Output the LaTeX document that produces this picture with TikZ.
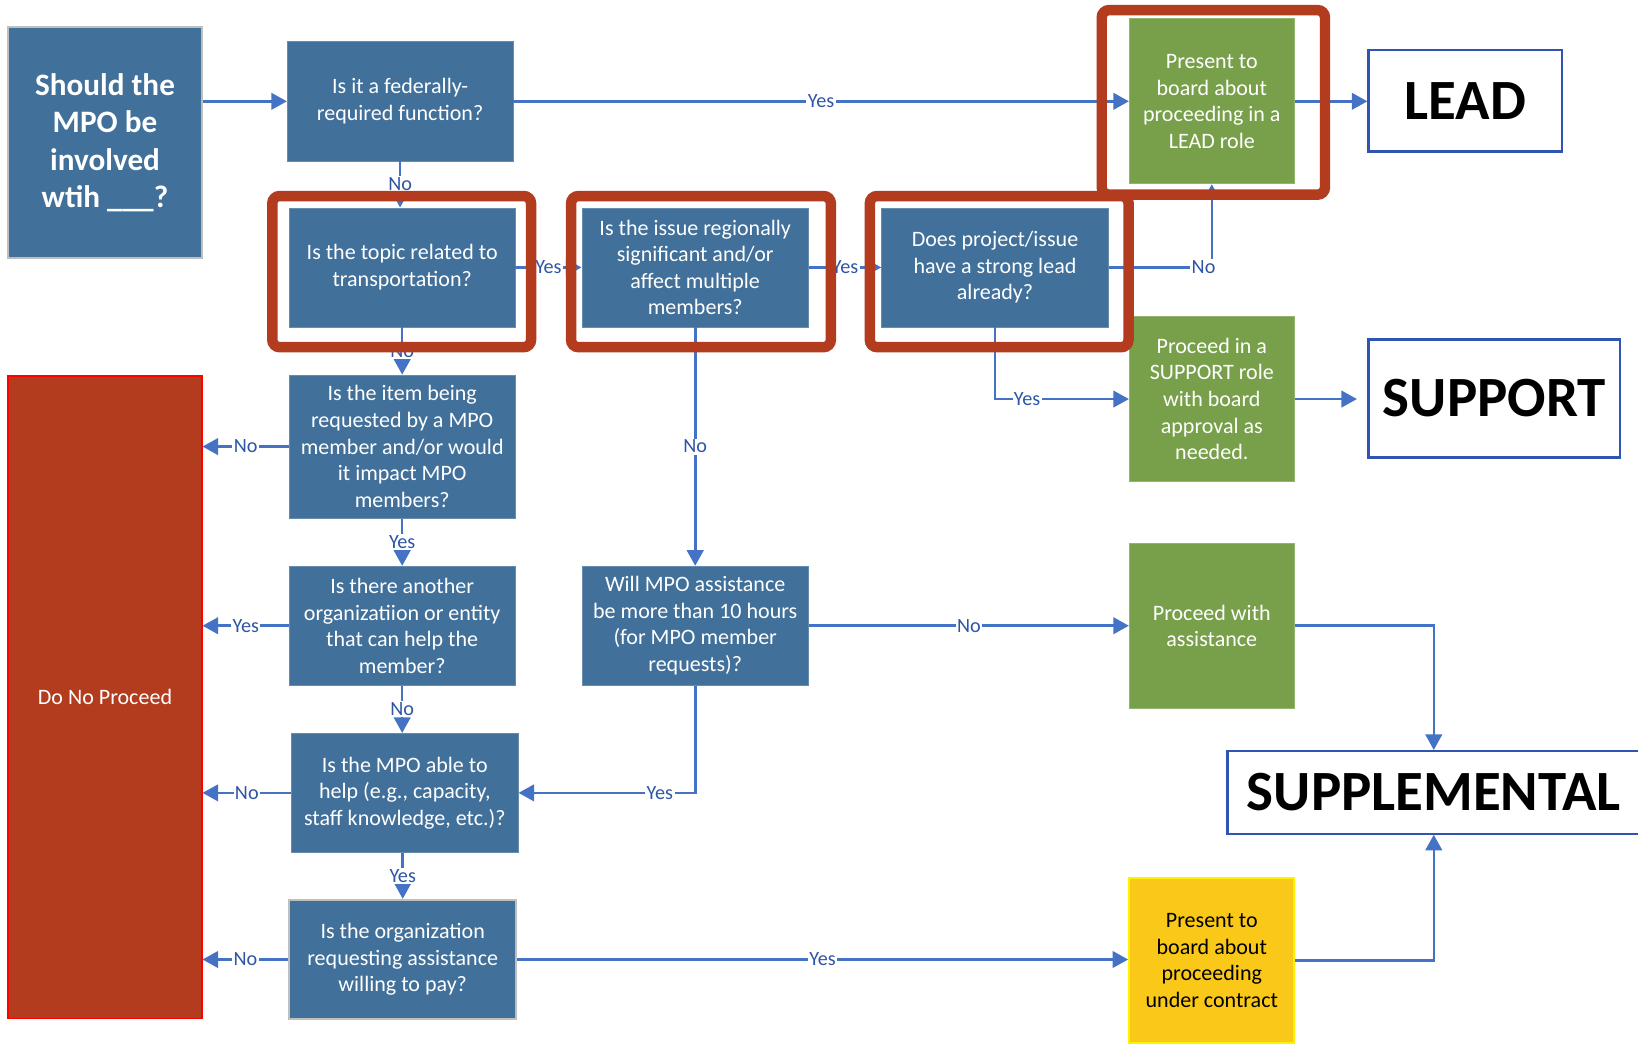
\documentclass[tikz,border=0pt]{standalone}
\usepackage{fontspec}
\setmainfont{Carlito}
\usepackage{tikz}
\usetikzlibrary{calc, positioning, shapes, arrows.meta}

\definecolor{qblue}{HTML}{41709A}
\definecolor{qgreen}{HTML}{78A04A}
\definecolor{brick}{HTML}{B33B1E}
\definecolor{qyellow}{HTML}{FAC818}
\definecolor{lineblue}{HTML}{4472C4}
\definecolor{textblue}{HTML}{2F55A5}
\definecolor{edgeblue}{HTML}{2F55B0}

\begin{document}
\begin{tikzpicture}[x=0.2mm, y=-0.2mm]

\tikzstyle{question} = [rectangle, fill=qblue, draw=qblue!80!white, text=white, align=center, minimum width=4.32cm, minimum height=2.28cm, inner sep=0pt, font=\fontsize{12}{14.5}\selectfont];
\tikzstyle{result} = [rectangle, fill=qgreen, draw=qgreen!80!white, text=white, align=center, minimum width=3.16cm, minimum height=3.16cm, inner sep=0pt, font=\fontsize{12}{14.5}\selectfont];
\tikzstyle{outcome} = [rectangle, fill=white, draw=edgeblue, line width=1.2pt, font=\fontsize{31}{36}\selectfont\bfseries, inner sep=0pt];
\tikzstyle{arrow} = [-{Triangle[length=8.5pt, width=9pt]}, draw=lineblue, line width=1.4pt];
\tikzstyle{answer} = [fill=white, text=textblue, inner sep=0.8pt, font=\fontsize{11}{13}\selectfont];
\tikzstyle{hilite} = [draw=brick, line width=5.7pt, rounded corners=4pt];

\useasboundingbox (0,0) rectangle (1568,999);

\node(start) [question, draw=gray!50, line width=1.2pt, minimum width=3.7cm, minimum height=4.42cm, font=\fontsize{17}{20.4}\selectfont\bfseries] at (100.5,136.5) {Should the\\MPO be\\involved\\wtih \_\_\_?};
\node(fed) [question] at (383,97) {Is it a federally-\\required function?};

\node(topic) [question] at (385,256) {Is the topic related to\\transportation?};
\node(regional) [question, minimum width=4.34cm] at (665.5,256) {Is the issue regionally\\significant and/or\\affect multiple\\members?};
\node(strong) [question, minimum width=4.34cm] at (952.5,256) {Does project/issue\\have a strong lead\\already?};

\node(presentlead) [result] at (1160,97) {Present to\\board about\\proceeding in a\\LEAD role};
\node(lead) [outcome, minimum width=3.7cm, minimum height=1.94cm] at (1402.5,96.5) {LEAD};

\node(proceedsup) [result] at (1160,382) {Proceed in a\\SUPPORT role\\with board\\approval as\\needed.};
\node(support) [outcome, minimum width=4.82cm, minimum height=2.26cm] at (1430.5,381.5) {SUPPORT};

\node(item) [question, minimum height=2.74cm] at (385,427.5) {Is the item being\\requested by a MPO\\member and/or would\\it impact MPO\\members?};
\node(another) [question] at (385,599) {Is there another\\organizatiion or entity\\that can help the\\member?};
\node(will) [question, minimum width=4.34cm] at (665.5,599) {Will MPO assistance\\be more than 10 hours\\(for MPO member\\requests)?};
\node(assist) [result] at (1160,599) {Proceed with\\assistance};

\node(supplemental) [outcome, minimum width=7.9cm, minimum height=1.58cm] at (1372.5,758.5) {SUPPLEMENTAL};

\node(able) [question, minimum width=4.34cm] at (387.5,759) {Is the MPO able to\\help (e.g., capacity,\\staff knowledge, etc.)?};
\node(pay) [question, draw=gray!50, line width=1.2pt, minimum width=4.34cm] at (385.5,918.5) {Is the organization\\requesting assistance\\willing to pay?};
\node(contract) [result, fill=qyellow, draw=yellow, line width=1.2pt, text=black] at (1160,919.5) {Present to\\board about\\proceeding\\under contract};

\node(dnp) [rectangle, fill=brick, draw=red, line width=1pt, text=white, minimum width=3.7cm, minimum height=12.3cm, font=\fontsize{12}{14.5}\selectfont] at (100.5,667.5) {Do No Proceed};

\draw [arrow] (fed.west -| start.east) -- (fed.west);
\draw [arrow] (fed.east) -- node[answer] {Yes} (presentlead.west);
\draw [arrow] (presentlead.east) -- (lead.west |- presentlead.east);
\draw [arrow] (fed.south) -- node[answer] {No} (fed.south |- topic.north);

\draw [arrow] (topic.east) -- node[answer] {Yes} (regional.west);
\draw [arrow] (regional.east) -- node[answer] {Yes} (strong.west);
\draw [arrow] (strong.east) -| node[answer, pos=0.46] {No} (presentlead.south);
\draw [arrow] (strong.south) |- node[answer, pos=0.62] {Yes} (proceedsup.west);
\draw [arrow, shorten >=0.2cm] (proceedsup.east) -- (support.west |- proceedsup.east);

\draw [arrow] (topic.south) -- node[answer] {No} (item.north);
\draw [arrow] (regional.south) -- node[answer] {No} (will.north);

\draw [arrow] (item.west) -- node[answer] {No} (item.west -| dnp.east);
\draw [arrow] (item.south) -- node[answer] {Yes} (another.north);
\draw [arrow] (another.west) -- node[answer] {Yes} (another.west -| dnp.east);
\draw [arrow] (another.south) -- node[answer] {No} (another.south |- able.north);

\draw [arrow] (will.east) -- node[answer] {No} (assist.west);
\draw [arrow] (will.south) |- node[answer, pos=0.6] {Yes} (able.east);

\draw [arrow] (able.west) -- node[answer] {No} (able.west -| dnp.east);
\draw [arrow] (able.south -| pay.north) -- node[answer] {Yes} (pay.north);
\draw [arrow] (pay.west) -- node[answer] {No} (pay.west -| dnp.east);
\draw [arrow] (pay.east) -- node[answer] {Yes} (pay.east -| contract.west);

\draw [arrow] (assist.east) -| (supplemental.north);
\draw [arrow] (contract.east) -| (supplemental.south);

\draw [hilite] ([shift={(-16,-11)}]topic.north west) rectangle ([shift={(15,19)}]topic.south east);
\draw [hilite] ([shift={(-10,-11)}]regional.north west) rectangle ([shift={(21,19)}]regional.south east);
\draw [hilite] ([shift={(-11,-11)}]strong.north west) rectangle ([shift={(19,19)}]strong.south east);
\draw [hilite] ([shift={(-26,-8)}]presentlead.north west) rectangle ([shift={(29,10)}]presentlead.south east);

	\end{tikzpicture}
\end{document}
